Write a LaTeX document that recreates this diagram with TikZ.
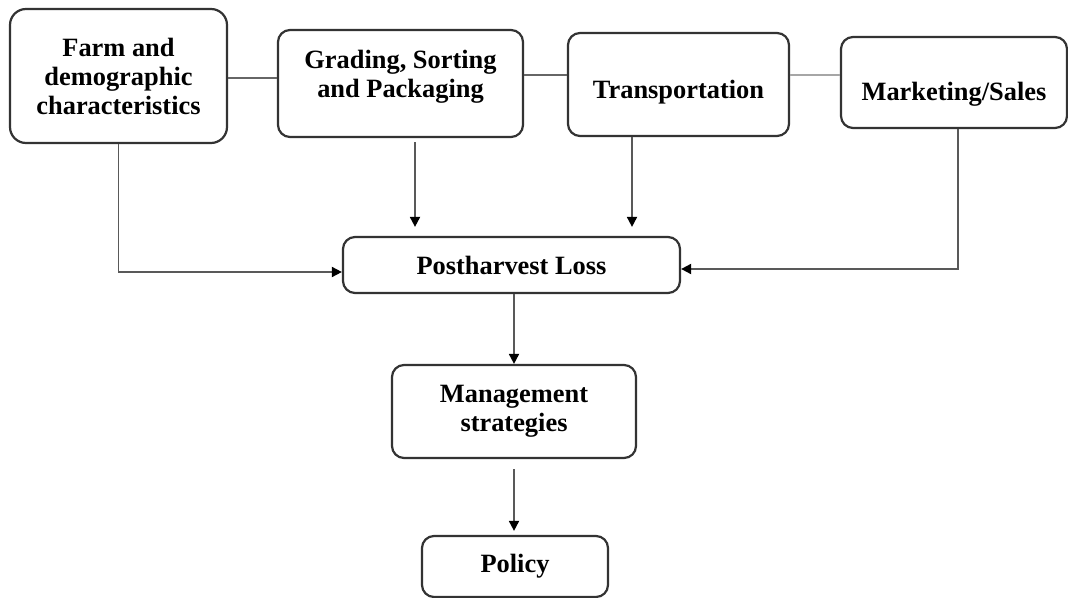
\documentclass[tikz,border=0pt]{standalone}
\usepackage{fontspec}
\setmainfont{Liberation Serif}
\usetikzlibrary{arrows.meta}
\newcommand{\shiftline}[2]{\raisebox{#1}[\height][\depth]{#2}}

\begin{document}
\begin{tikzpicture}[x=0.5pt,y=-0.5pt,>={Triangle[length=5pt,width=5pt,color=black]},
  stage/.style={draw=black!80,line width=1.1pt,rounded corners=6pt,align=center,
    inner sep=0pt,font=\fontsize{13.2}{14.5}\selectfont\bfseries},
  link/.style={draw=black!60,line width=0.9pt},
  flow/.style={->,draw=black!65,line width=0.9pt}]
  \useasboundingbox (0,0) rectangle (1068,598);
  % top row of stages
  \node[stage,rounded corners=8pt,minimum width=108.5pt,minimum height=67pt] (farm) at (118.5,76)
    {Farm and\\demographic\\characteristics};
  \node[stage,minimum width=122.5pt,minimum height=53.5pt] (grade) at (400.5,83.5)
    {\shiftline{3.5pt}{Grading, Sorting}\\\shiftline{3.5pt}{and Packaging}};
  \node[stage,minimum width=110.5pt,minimum height=51.5pt] (trans) at (678.5,84.5)
    {\shiftline{-4pt}{Transportation}};
  \node[stage,minimum width=113pt,minimum height=45.5pt] (market) at (954,82.5)
    {\shiftline{-6pt}{Marketing/Sales}};
  % middle and bottom
  \node[stage,minimum width=168.5pt,minimum height=28pt] (loss) at (511.5,265) {Postharvest Loss};
  \node[stage,minimum width=122pt,minimum height=46.5pt] (manage) at (514,411.5) {Management\\strategies};
  \node[stage,minimum width=93pt,minimum height=30.5pt] (policy) at (515,566.5) {Policy};

  % lines between the top stages
  \draw[link] ([yshift=-1pt]farm.east) -- ([yshift=-1pt]farm.east -| grade.west);
  \draw[link] ([yshift=4.25pt]grade.east) -- ([yshift=4.25pt]grade.east -| trans.west);
  \draw[link,draw=black!35] ([yshift=4.75pt]trans.east) -- ([yshift=4.75pt]trans.east -| market.west);

  % arrows into the loss
  \draw[flow] (farm.south) |- ([yshift=-3.5pt]loss.west);
  \draw[flow,shorten <=2pt,shorten >=4.5pt] ([xshift=7.25pt]grade.south) -- ([xshift=7.25pt]grade.south |- loss.north);
  \draw[flow,shorten >=4.5pt] ([xshift=-23.25pt]trans.south) -- ([xshift=-23.25pt]trans.south |- loss.north);
  \draw[flow] ([xshift=2pt]market.south) |- ([yshift=-2pt]loss.east);
  % down the chain
  \draw[flow] (loss.south -| manage) -- (manage.north);
  \draw[flow,shorten <=5pt,shorten >=2pt] (manage.south) -- (manage.south |- policy.north);
\end{tikzpicture}
\end{document}
